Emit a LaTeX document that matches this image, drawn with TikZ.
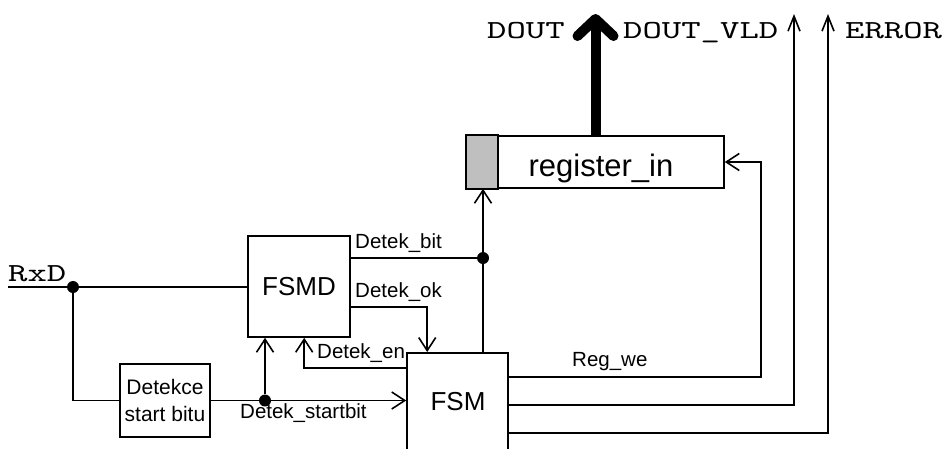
\documentclass[tikz,border=0pt]{standalone}
\usepackage{fontspec}
\setmainfont{Liberation Sans}
\newfontfamily\monofont[FakeStretch=1.42]{lmmono10-regular.otf}
\usetikzlibrary{arrows.meta,positioning,calc}

\begin{document}
\begin{tikzpicture}[x=1pt,y=-1pt,
    block/.style={draw,line width=1.6pt,inner sep=1pt},
    wire/.style={line width=1.6pt},
    sig/.style={wire,-{Straight Barb[length=13pt,width=17pt]}},
    outp/.style={wire,-{Straight Barb[length=15pt,width=12pt]}},
    bus/.style={line width=10pt,-{Straight Barb[length=17pt,width=36pt,round]}},
    dot/.style={circle,fill,inner sep=0pt,minimum size=12pt},
    lab/.style={anchor=base west,inner sep=0pt,font=\fontsize{20.5}{24}\selectfont},
    port/.style={anchor=base west,inner sep=0pt,font=\monofont\fontsize{26}{30}\selectfont}]
    \path[use as bounding box,clip] (0,0) rectangle (945,448);

    % Blocks
    \node[block,minimum width=102pt,minimum height=101pt,font=\fontsize{26}{30}\selectfont] (fsmd) at (299,286.5) {FSMD};
    \node[block,minimum width=101pt,minimum height=120pt,anchor=north] (fsm) at (457.5,352) {};
    \node[anchor=base,inner sep=0pt,font=\fontsize{26}{30}\selectfont] (fsmtext) at (458,410) {FSM};
    \node[block,minimum width=90pt,minimum height=73pt,align=center,font=\fontsize{21}{27}\selectfont] (detekce) at (165,400.5) {Detekce\\start bitu};
    \node[block,minimum width=257pt,minimum height=52pt] (reg) at (595.5,162) {};
    \filldraw[fill=gray!50,line width=1.6pt] (reg.north west) rectangle ([xshift=32pt]reg.south west);
    \node[anchor=base,inner sep=0pt,font=\fontsize{31}{36}\selectfont] (regtext) at (601,176) {register\_in};

    % RxD input
    \coordinate (rxd) at (8,287);
    \node[port] (lrxd) at (8,281) {RxD};
    \node[dot] (j1) at (73,287) {};
    \draw[wire] (rxd) -- (j1) -- (j1 -| fsmd.west);
    \draw[wire] (j1) |- (detekce.west);

    % start bit
    \node[dot] (j2) at (265,400.5) {};
    \draw[wire] (detekce.east) -- (j2);
    \draw[sig] (j2) -- (j2 -| fsm.west);
    \draw[sig] (j2) -- (j2 |- fsmd.south);
    \node[lab] (lstart) at (240,418) {Detek\_startbit};

    % FSMD <-> FSM
    \draw[sig] ([yshift=-16pt]fsm.north west) -| ([xshift=57pt]fsmd.south west);
    \node[lab] (len) at (317,358) {Detek\_en};
    \draw[sig] ([yshift=-20.5pt]fsmd.east) -| ([xshift=21pt]fsm.north west);
    \node[lab] (lok) at (355,297) {Detek\_ok};
    \node[dot] (j3) at (483,258) {};
    \draw[wire] (j3 -| fsmd.east) -- (j3);
    \draw[sig] (j3 |- fsm.north) -- (j3 |- reg.south);
    \node[lab] (lbit) at (355,248) {Detek\_bit};

    % FSM outputs
    \draw[sig] ([yshift=-25pt]fsm.north east) -| ([xshift=36pt]reg.east) -- (reg.east);
    \node[lab] (lwe) at (572,366) {Reg\_we};
    \coordinate (vld) at (794,14);
    \coordinate (err) at (828,14);
    \draw[outp] ([yshift=-53pt]fsm.north east) -| (vld);
    \draw[outp] ([yshift=-81pt]fsm.north east) -| (err);

    % DOUT bus
    \coordinate (dout) at (595.5,14);
    \draw[bus] (reg.north) -- (dout);
    \node[port] (ldout) at (487,38) {DOUT};
    \node[port] (lvld) at (623,38) {DOUT\_VLD};
    \node[port] (lerr) at (845,38) {ERROR};
\end{tikzpicture}
\end{document}
